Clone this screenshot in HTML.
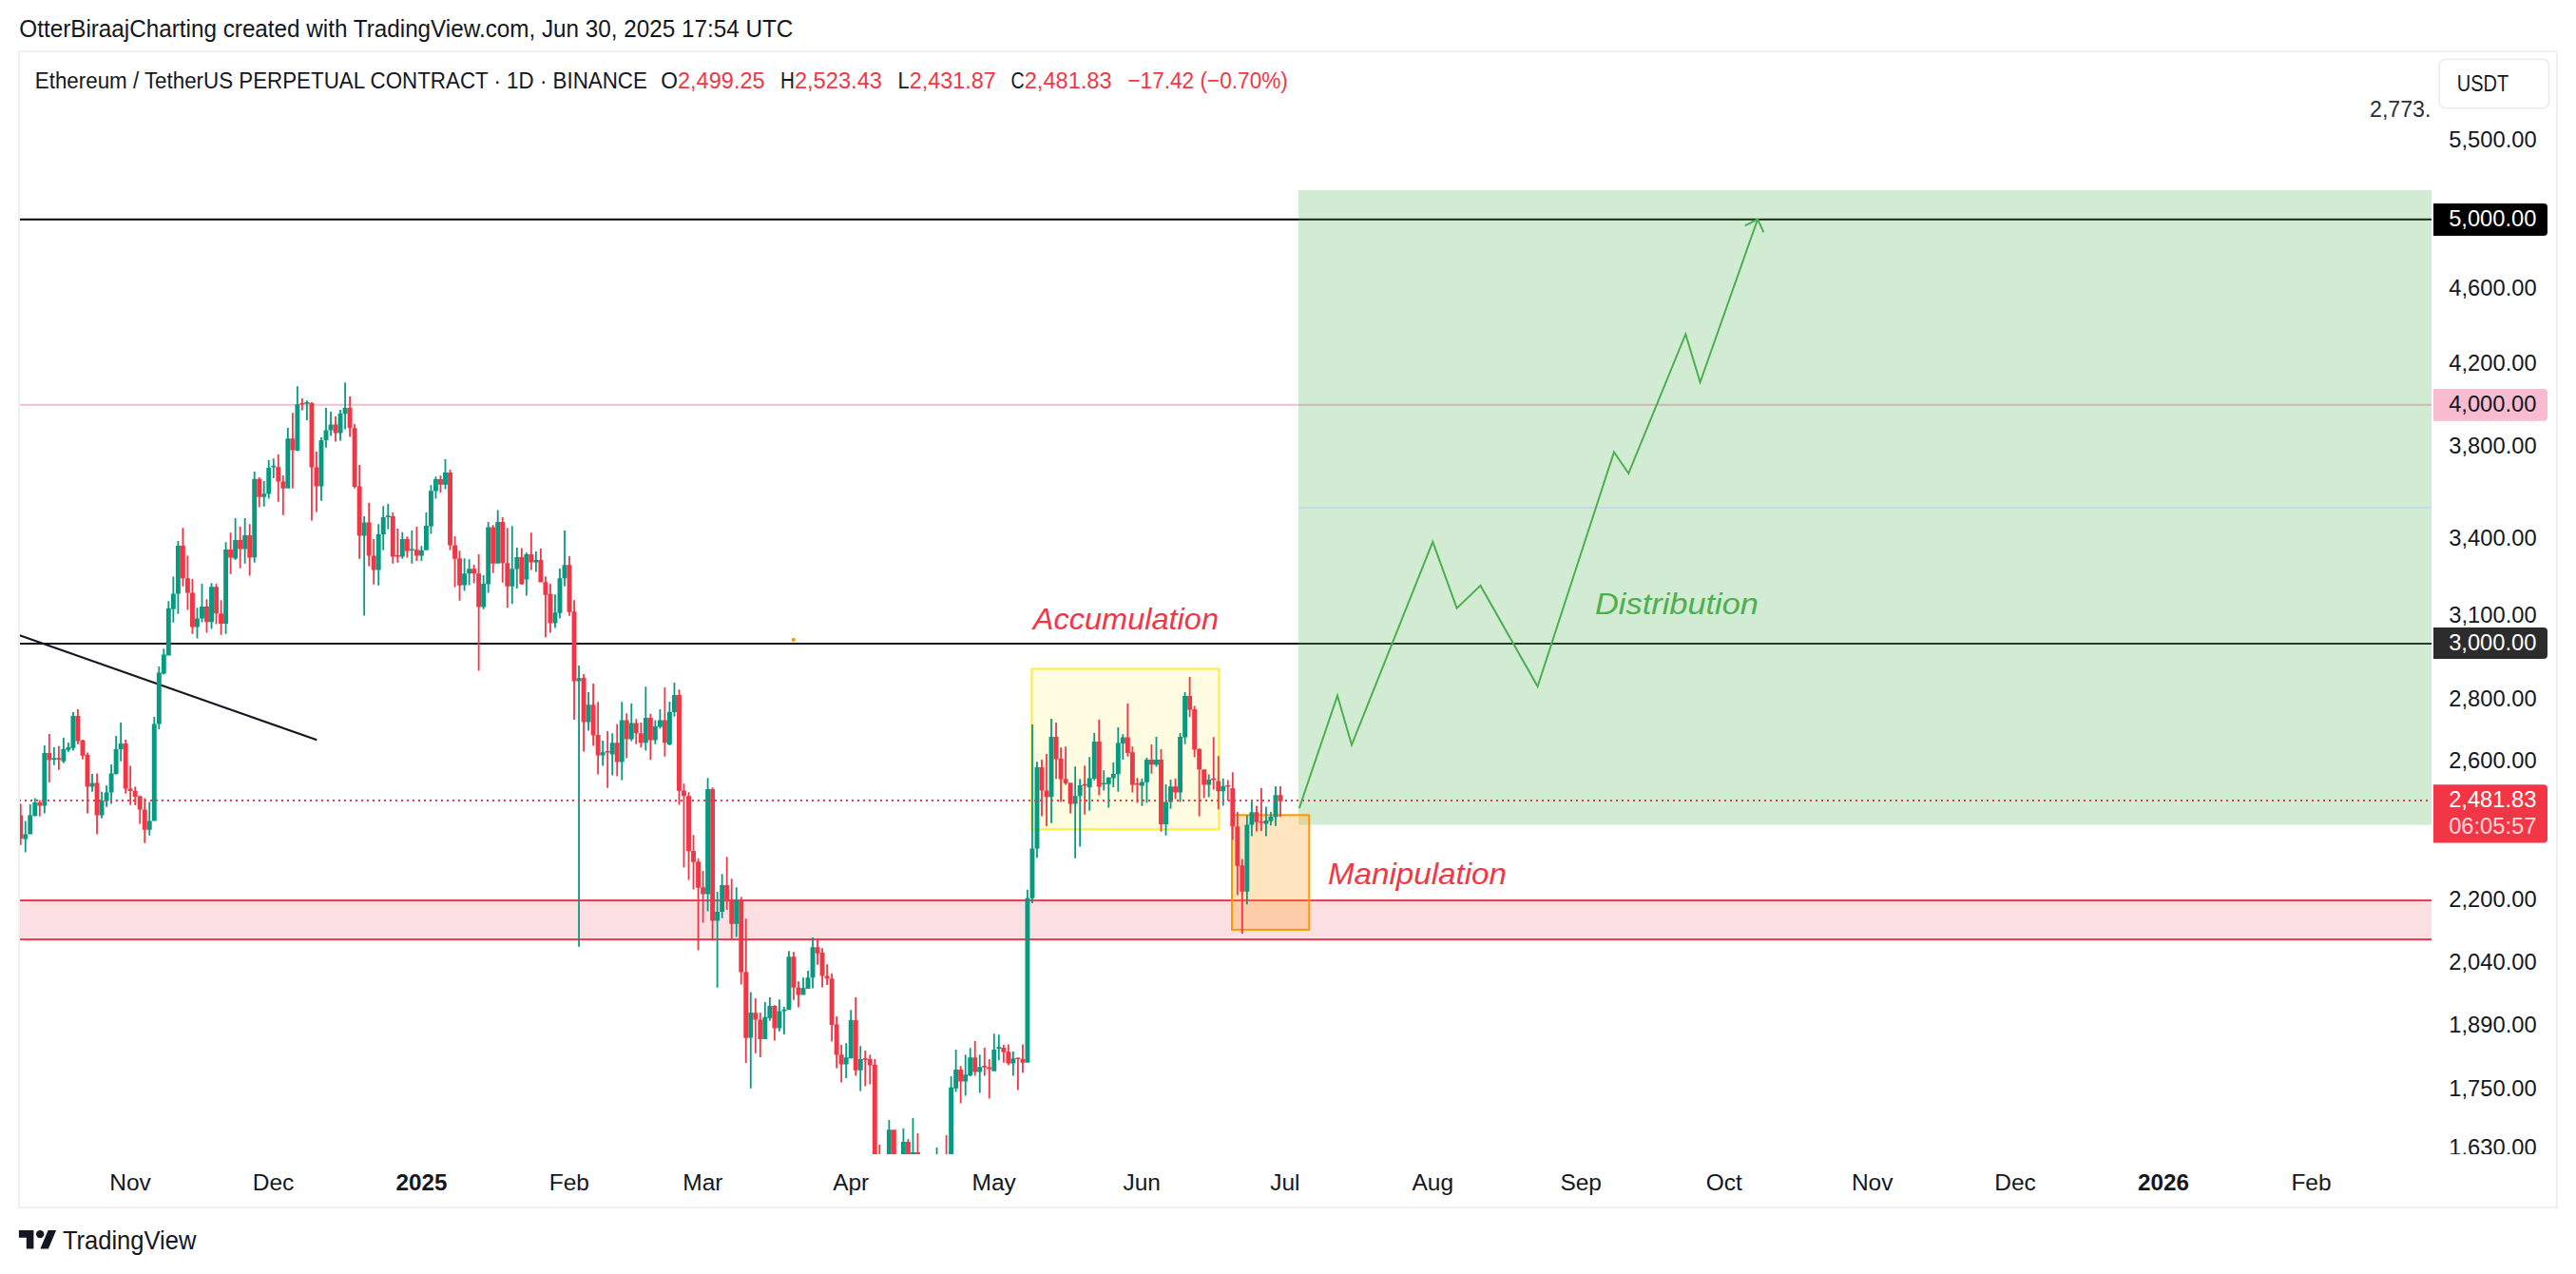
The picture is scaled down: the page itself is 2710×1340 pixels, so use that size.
<!DOCTYPE html><html><head><meta charset="utf-8"><style>html,body{margin:0;padding:0;background:#fff;width:2710px;height:1340px;overflow:hidden}svg{display:block}text{font-family:"Liberation Sans", sans-serif}</style></head><body>
<svg width="2710" height="1340" viewBox="0 0 2710 1340">
<defs><clipPath id="pane"><rect x="21" y="55" width="2537" height="1159"/></clipPath><clipPath id="axis"><rect x="2558" y="55" width="131" height="1159"/></clipPath></defs>
<rect width="2710" height="1340" fill="#ffffff"/>
<text x="20.3" y="39.2" font-size="24.9" fill="#131722" textLength="814" lengthAdjust="spacingAndGlyphs" >OtterBiraajCharting created with TradingView.com, Jun 30, 2025 17:54 UTC</text>
<rect x="20" y="54" width="2670" height="1216" fill="none" stroke="#f0f0f0" stroke-width="2"/>
<g clip-path="url(#pane)">
<rect x="21" y="947.1" width="2537" height="41" fill="#fcdfe2"/>
<rect x="21" y="946.1" width="2537" height="2" fill="#f23645"/>
<rect x="21" y="987.1" width="2537" height="2" fill="#f23645"/>
<rect x="21" y="229.8" width="2537" height="2" fill="#000000"/>
<rect x="21" y="424.8" width="2537" height="2" fill="#f8bbd0"/>
<rect x="21" y="676" width="2537" height="2" fill="#131722"/>
<line x1="20.3" y1="668.2" x2="333.3" y2="778.3" stroke="#131722" stroke-width="2.2"/>
<rect x="1366" y="200" width="1192" height="667.6" fill="rgba(76,175,80,0.25)"/>
<rect x="1366" y="533" width="1192" height="2" fill="#c2dde6"/>
<rect x="1085.4" y="703.5" width="197.1" height="168.8" fill="rgba(255,235,59,0.15)" stroke="#ffeb3b" stroke-width="2"/>
<rect x="1296" y="857.3" width="81.3" height="120.6" fill="rgba(255,152,0,0.25)" stroke="#ff9800" stroke-width="2"/>
<circle cx="834.8" cy="672.9" r="2.1" fill="#ff9800"/>
<path d="M25.84 863.4h1.8V896.5h-1.8Z M24.29 877.5h4.9V882.5h-4.9Z M30.86 846.1h1.8V877.5h-1.8Z M29.31 857.4h4.9V877.5h-4.9Z M35.88 839.4h1.8V858.8h-1.8Z M34.33 844.1h4.9V858.1h-4.9Z M45.92 784.0h1.8V855.4h-1.8Z M44.37 792.0h4.9V847.4h-4.9Z M55.96 786.0h1.8V804.7h-1.8Z M54.41 797.3h4.9V798.9h-4.9Z M66.00 776.0h1.8V802.7h-1.8Z M64.45 788.0h4.9V800.7h-4.9Z M71.02 781.1h1.8V790.7h-1.8Z M69.47 786.0h4.9V788.7h-4.9Z M76.04 749.1h1.8V789.4h-1.8Z M74.49 753.0h4.9V786.7h-4.9Z M96.12 814.1h1.8V832.7h-1.8Z M94.57 823.4h4.9V827.4h-4.9Z M106.16 832.7h1.8V860.8h-1.8Z M104.61 842.1h4.9V857.4h-4.9Z M111.18 826.1h1.8V848.8h-1.8Z M109.63 833.4h4.9V842.8h-4.9Z M116.20 804.1h1.8V845.4h-1.8Z M114.65 813.4h4.9V833.4h-4.9Z M121.22 774.0h1.8V814.7h-1.8Z M119.67 788.0h4.9V814.1h-4.9Z M126.24 760.0h1.8V800.7h-1.8Z M124.69 782.0h4.9V788.0h-4.9Z M156.36 843.4h1.8V878.8h-1.8Z M154.81 863.4h4.9V872.8h-4.9Z M161.38 754.0h1.8V863.4h-1.8Z M159.83 761.4h4.9V863.4h-4.9Z M166.40 701.1h1.8V767.0h-1.8Z M164.85 707.5h4.9V761.6h-4.9Z M171.42 682.2h1.8V709.6h-1.8Z M169.87 688.5h4.9V708.4h-4.9Z M176.44 632.2h1.8V689.4h-1.8Z M174.89 639.8h4.9V689.4h-4.9Z M181.46 606.4h1.8V654.7h-1.8Z M179.91 624.4h4.9V640.7h-4.9Z M186.48 569.0h1.8V645.7h-1.8Z M184.93 573.9h4.9V624.4h-4.9Z M206.56 639.2h1.8V671.4h-1.8Z M205.01 650.6h4.9V659.6h-4.9Z M211.58 614.1h1.8V654.6h-1.8Z M210.03 638.0h4.9V650.6h-4.9Z M221.62 613.2h1.8V661.4h-1.8Z M220.07 617.2h4.9V654.2h-4.9Z M236.68 570.3h1.8V666.8h-1.8Z M235.13 578.0h4.9V656.0h-4.9Z M246.72 545.0h1.8V588.9h-1.8Z M245.17 568.1h4.9V587.4h-4.9Z M256.76 545.0h1.8V592.8h-1.8Z M255.21 563.1h4.9V577.5h-4.9Z M266.80 496.1h1.8V591.8h-1.8Z M265.25 503.8h4.9V586.3h-4.9Z M276.84 506.0h1.8V532.7h-1.8Z M275.29 519.2h4.9V522.8h-4.9Z M281.86 484.0h1.8V524.6h-1.8Z M280.31 492.1h4.9V519.5h-4.9Z M286.88 482.2h1.8V502.9h-1.8Z M285.33 489.8h4.9V491.6h-4.9Z M301.94 450.1h1.8V513.8h-1.8Z M300.39 461.2h4.9V513.8h-4.9Z M311.98 406.2h1.8V474.4h-1.8Z M310.43 425.3h4.9V474.1h-4.9Z M322.02 421.2h1.8V441.9h-1.8Z M320.47 423.1h4.9V424.7h-4.9Z M337.08 460.0h1.8V526.8h-1.8Z M335.53 463.1h4.9V511.4h-4.9Z M342.10 428.9h1.8V470.8h-1.8Z M340.55 452.4h4.9V463.1h-4.9Z M347.12 432.9h1.8V458.5h-1.8Z M345.57 446.4h4.9V452.4h-4.9Z M357.16 431.1h1.8V463.6h-1.8Z M355.61 435.1h4.9V455.5h-4.9Z M362.18 402.2h1.8V451.4h-1.8Z M360.63 428.9h4.9V435.2h-4.9Z M382.26 543.1h1.8V647.6h-1.8Z M380.71 549.5h4.9V563.4h-4.9Z M397.32 551.3h1.8V615.7h-1.8Z M395.77 562.1h4.9V599.5h-4.9Z M402.34 532.3h1.8V578.7h-1.8Z M400.79 544.0h4.9V562.1h-4.9Z M407.36 530.0h1.8V556.7h-1.8Z M405.81 542.2h4.9V544.0h-4.9Z M422.42 559.7h1.8V587.7h-1.8Z M420.87 567.0h4.9V585.6h-4.9Z M432.46 557.9h1.8V592.8h-1.8Z M430.91 577.4h4.9V579.0h-4.9Z M442.50 574.2h1.8V589.9h-1.8Z M440.95 578.7h4.9V584.5h-4.9Z M447.52 539.0h1.8V578.7h-1.8Z M445.97 553.1h4.9V578.7h-4.9Z M452.54 510.2h1.8V561.6h-1.8Z M450.99 516.2h4.9V553.5h-4.9Z M457.56 501.2h1.8V524.6h-1.8Z M456.01 503.9h4.9V516.5h-4.9Z M467.60 483.1h1.8V514.4h-1.8Z M466.05 497.0h4.9V509.7h-4.9Z M487.68 587.3h1.8V621.6h-1.8Z M486.13 603.2h4.9V615.4h-4.9Z M492.70 588.2h1.8V615.4h-1.8Z M491.15 598.3h4.9V603.2h-4.9Z M507.76 605.0h1.8V640.7h-1.8Z M506.21 614.0h4.9V638.4h-4.9Z M512.78 549.0h1.8V623.6h-1.8Z M511.23 554.4h4.9V614.4h-4.9Z M522.82 536.4h1.8V592.7h-1.8Z M521.27 549.0h4.9V592.7h-4.9Z M537.88 553.2h1.8V635.3h-1.8Z M536.33 598.3h4.9V616.7h-4.9Z M542.90 576.1h1.8V618.9h-1.8Z M541.35 586.0h4.9V598.6h-4.9Z M552.94 581.2h1.8V626.6h-1.8Z M551.39 583.0h4.9V609.5h-4.9Z M562.98 580.1h1.8V601.4h-1.8Z M561.43 589.1h4.9V591.4h-4.9Z M583.06 625.2h1.8V660.6h-1.8Z M581.51 644.3h4.9V655.5h-4.9Z M588.08 598.1h1.8V650.5h-1.8Z M586.53 608.2h4.9V644.7h-4.9Z M593.10 558.1h1.8V616.7h-1.8Z M591.55 594.2h4.9V608.2h-4.9Z M618.20 728.0h1.8V768.6h-1.8Z M616.65 741.2h4.9V759.6h-4.9Z M633.26 779.1h1.8V805.6h-1.8Z M631.71 791.2h4.9V794.4h-4.9Z M643.30 771.3h1.8V815.5h-1.8Z M641.75 781.2h4.9V793.5h-4.9Z M653.34 738.3h1.8V820.6h-1.8Z M651.79 757.4h4.9V801.6h-4.9Z M663.38 740.1h1.8V779.4h-1.8Z M661.83 760.5h4.9V777.6h-4.9Z M678.44 722.2h1.8V789.4h-1.8Z M676.89 755.1h4.9V781.2h-4.9Z M688.48 757.4h1.8V782.7h-1.8Z M686.93 764.1h4.9V778.5h-4.9Z M693.50 746.0h1.8V766.4h-1.8Z M691.95 757.4h4.9V764.6h-4.9Z M703.54 737.9h1.8V783.9h-1.8Z M701.99 748.7h4.9V783.0h-4.9Z M708.56 718.1h1.8V753.8h-1.8Z M707.01 731.0h4.9V749.1h-4.9Z M743.70 818.2h1.8V958.5h-1.8Z M742.15 830.0h4.9V940.5h-4.9Z M753.74 938.1h1.8V1038.8h-1.8Z M752.19 959.1h4.9V968.4h-4.9Z M758.76 919.2h1.8V965.7h-1.8Z M757.21 931.1h4.9V959.1h-4.9Z M773.82 933.2h1.8V985.6h-1.8Z M772.27 946.4h4.9V971.7h-4.9Z M788.88 1043.4h1.8V1144.7h-1.8Z M787.33 1065.0h4.9V1091.5h-4.9Z M803.94 1054.1h1.8V1092.9h-1.8Z M802.39 1069.8h4.9V1092.9h-4.9Z M808.96 1049.1h1.8V1073.8h-1.8Z M807.41 1058.1h4.9V1070.7h-4.9Z M819.00 1051.2h1.8V1084.8h-1.8Z M817.45 1063.5h4.9V1081.6h-4.9Z M824.02 1059.0h1.8V1087.9h-1.8Z M822.47 1061.7h4.9V1063.5h-4.9Z M829.04 1000.3h1.8V1062.3h-1.8Z M827.49 1006.3h4.9V1062.3h-4.9Z M844.10 1028.3h1.8V1046.4h-1.8Z M842.55 1039.2h4.9V1046.4h-4.9Z M849.12 1021.1h1.8V1040.1h-1.8Z M847.57 1028.3h4.9V1040.1h-4.9Z M854.14 985.9h1.8V1039.5h-1.8Z M852.59 996.2h4.9V1028.3h-4.9Z M889.28 1097.3h1.8V1133.9h-1.8Z M887.73 1112.3h4.9V1119.5h-4.9Z M894.30 1062.3h1.8V1113.5h-1.8Z M892.75 1073.1h4.9V1113.2h-4.9Z M904.34 1100.2h1.8V1147.5h-1.8Z M902.79 1114.1h4.9V1125.8h-4.9Z M1004.74 1104.1h1.8V1148.4h-1.8Z M1003.19 1124.9h4.9V1144.7h-4.9Z M1014.78 1109.2h1.8V1152.5h-1.8Z M1013.23 1130.3h4.9V1137.5h-4.9Z M1019.80 1102.3h1.8V1132.1h-1.8Z M1018.25 1112.3h4.9V1131.2h-4.9Z M1029.84 1109.2h1.8V1149.6h-1.8Z M1028.29 1122.2h4.9V1127.6h-4.9Z M1044.90 1087.3h1.8V1126.7h-1.8Z M1043.35 1104.1h4.9V1126.7h-4.9Z M1049.92 1088.2h1.8V1115.3h-1.8Z M1048.37 1101.3h4.9V1102.9h-4.9Z M1064.98 1105.9h1.8V1131.6h-1.8Z M1063.43 1113.2h4.9V1118.6h-4.9Z M1090.08 801.2h1.8V902.3h-1.8Z M1088.53 807.0h4.9V892.4h-4.9Z M1105.14 756.1h1.8V865.8h-1.8Z M1103.59 775.1h4.9V838.2h-4.9Z M1130.24 806.3h1.8V902.7h-1.8Z M1128.69 837.3h4.9V845.5h-4.9Z M1135.26 819.3h1.8V890.6h-1.8Z M1133.71 826.1h4.9V837.3h-4.9Z M1145.30 796.2h1.8V852.7h-1.8Z M1143.75 818.4h4.9V828.3h-4.9Z M1150.32 771.1h1.8V820.7h-1.8Z M1148.77 780.1h4.9V818.9h-4.9Z M1160.36 810.3h1.8V831.6h-1.8Z M1158.81 823.4h4.9V825.0h-4.9Z M1165.38 817.5h1.8V849.6h-1.8Z M1163.83 817.8h4.9V824.7h-4.9Z M1170.40 802.1h1.8V827.9h-1.8Z M1168.85 813.9h4.9V818.4h-4.9Z M1175.42 765.1h1.8V832.8h-1.8Z M1173.87 781.4h4.9V814.2h-4.9Z M1180.44 772.2h1.8V798.9h-1.8Z M1178.89 775.5h4.9V782.1h-4.9Z M1200.52 819.1h1.8V847.7h-1.8Z M1198.97 822.4h4.9V826.4h-4.9Z M1205.54 797.1h1.8V844.4h-1.8Z M1203.99 798.9h4.9V822.7h-4.9Z M1215.58 774.9h1.8V806.5h-1.8Z M1214.03 798.9h4.9V804.3h-4.9Z M1225.62 824.9h1.8V878.7h-1.8Z M1224.07 843.5h4.9V867.0h-4.9Z M1230.64 820.0h1.8V850.7h-1.8Z M1229.09 827.3h4.9V843.5h-4.9Z M1240.68 770.9h1.8V843.5h-1.8Z M1239.13 774.9h4.9V833.6h-4.9Z M1245.70 728.0h1.8V782.7h-1.8Z M1244.15 732.1h4.9V775.5h-4.9Z M1270.80 814.6h1.8V838.6h-1.8Z M1269.25 820.0h4.9V825.5h-4.9Z M1285.86 818.7h1.8V847.5h-1.8Z M1284.31 826.8h4.9V832.2h-4.9Z M1310.96 857.5h1.8V951.3h-1.8Z M1309.41 867.4h4.9V937.8h-4.9Z M1315.98 843.0h1.8V879.5h-1.8Z M1314.43 854.2h4.9V867.4h-4.9Z M1331.04 848.4h1.8V879.5h-1.8Z M1329.49 862.9h4.9V866.5h-4.9Z M1336.06 853.9h1.8V868.3h-1.8Z M1334.51 858.9h4.9V863.8h-4.9Z M1341.08 827.1h1.8V868.7h-1.8Z M1339.53 836.2h4.9V859.3h-4.9Z M608.16 700.1h1.8V995.7h-1.8Z M606.61 713.3h4.9V716.5h-4.9Z M934.46 1178.0h1.8V1240.0h-1.8Z M932.91 1188.2h4.9V1240.0h-4.9Z M949.52 1187.0h1.8V1240.0h-1.8Z M947.97 1201.0h4.9V1240.0h-4.9Z M959.56 1176.0h1.8V1240.0h-1.8Z M958.01 1212.0h4.9V1240.0h-4.9Z M969.60 1230.0h1.8V1240.0h-1.8Z M968.05 1235.0h4.9V1240.0h-4.9Z M974.62 1230.0h1.8V1240.0h-1.8Z M973.07 1235.0h4.9V1240.0h-4.9Z M979.64 1230.0h1.8V1240.0h-1.8Z M978.09 1235.0h4.9V1240.0h-4.9Z M989.68 1230.0h1.8V1240.0h-1.8Z M988.13 1235.0h4.9V1240.0h-4.9Z M984.66 1207.0h1.8V1240.0h-1.8Z M983.11 1230.0h4.9V1240.0h-4.9Z M999.72 1132.1h1.8V1240.0h-1.8Z M998.17 1143.8h4.9V1240.0h-4.9Z M1080.04 935.7h1.8V1117.7h-1.8Z M1078.49 944.7h4.9V1117.7h-4.9Z M1085.06 762.0h1.8V950.0h-1.8Z M1083.51 892.4h4.9V944.7h-4.9Z" fill="#089981"/>
<path d="M20.82 845.4h1.8V888.8h-1.8Z M19.27 857.4h4.9V882.1h-4.9Z M40.90 841.4h1.8V858.8h-1.8Z M39.35 844.1h4.9V847.4h-4.9Z M50.94 772.0h1.8V822.7h-1.8Z M49.39 792.0h4.9V799.4h-4.9Z M60.98 784.7h1.8V809.8h-1.8Z M59.43 797.3h4.9V798.9h-4.9Z M81.06 746.0h1.8V782.7h-1.8Z M79.51 753.0h4.9V779.4h-4.9Z M86.08 778.0h1.8V798.7h-1.8Z M84.53 778.7h4.9V794.7h-4.9Z M91.10 791.4h1.8V855.4h-1.8Z M89.55 794.1h4.9V827.4h-4.9Z M101.14 813.4h1.8V877.5h-1.8Z M99.59 823.4h4.9V857.4h-4.9Z M131.26 778.0h1.8V834.8h-1.8Z M129.71 782.0h4.9V829.4h-4.9Z M136.28 805.4h1.8V846.8h-1.8Z M134.73 829.4h4.9V832.1h-4.9Z M141.30 827.4h1.8V846.8h-1.8Z M139.75 832.1h4.9V838.1h-4.9Z M146.32 836.8h1.8V866.8h-1.8Z M144.77 837.4h4.9V851.4h-4.9Z M151.34 839.4h1.8V886.8h-1.8Z M149.79 851.4h4.9V872.8h-4.9Z M191.50 555.3h1.8V616.7h-1.8Z M189.95 573.9h4.9V608.2h-4.9Z M196.52 584.4h1.8V641.6h-1.8Z M194.97 608.2h4.9V623.5h-4.9Z M201.54 609.1h1.8V666.8h-1.8Z M199.99 623.5h4.9V659.6h-4.9Z M216.60 630.2h1.8V665.6h-1.8Z M215.05 638.0h4.9V654.2h-4.9Z M226.64 614.1h1.8V656.6h-1.8Z M225.09 617.2h4.9V645.2h-4.9Z M231.66 631.3h1.8V667.7h-1.8Z M230.11 645.2h4.9V656.0h-4.9Z M241.70 560.3h1.8V603.7h-1.8Z M240.15 578.0h4.9V586.5h-4.9Z M251.74 554.0h1.8V597.7h-1.8Z M250.19 568.1h4.9V577.5h-4.9Z M261.78 551.3h1.8V605.5h-1.8Z M260.23 563.1h4.9V586.5h-4.9Z M271.82 502.0h1.8V533.6h-1.8Z M270.27 503.8h4.9V522.8h-4.9Z M291.90 478.0h1.8V527.7h-1.8Z M290.35 491.2h4.9V506.6h-4.9Z M296.92 500.1h1.8V541.8h-1.8Z M295.37 506.6h4.9V513.8h-4.9Z M306.96 434.2h1.8V513.8h-1.8Z M305.41 461.2h4.9V473.5h-4.9Z M317.00 419.0h1.8V431.6h-1.8Z M315.45 424.0h4.9V425.6h-4.9Z M327.04 423.0h1.8V547.5h-1.8Z M325.49 423.9h4.9V491.6h-4.9Z M332.06 475.0h1.8V538.5h-1.8Z M330.51 491.6h4.9V511.4h-4.9Z M352.14 438.0h1.8V464.5h-1.8Z M350.59 446.4h4.9V455.5h-4.9Z M367.20 417.1h1.8V459.6h-1.8Z M365.65 428.9h4.9V450.2h-4.9Z M372.22 446.0h1.8V513.7h-1.8Z M370.67 450.2h4.9V511.9h-4.9Z M377.24 489.0h1.8V587.7h-1.8Z M375.69 511.6h4.9V563.4h-4.9Z M387.28 529.1h1.8V595.5h-1.8Z M385.73 549.5h4.9V584.5h-4.9Z M392.30 567.0h1.8V614.8h-1.8Z M390.75 584.5h4.9V599.5h-4.9Z M412.38 539.0h1.8V592.8h-1.8Z M410.83 543.0h4.9V585.6h-4.9Z M417.40 556.1h1.8V591.7h-1.8Z M415.85 584.0h4.9V585.6h-4.9Z M427.44 564.3h1.8V586.5h-1.8Z M425.89 567.0h4.9V579.6h-4.9Z M437.48 554.0h1.8V589.9h-1.8Z M435.93 578.3h4.9V584.5h-4.9Z M462.58 500.3h1.8V518.3h-1.8Z M461.03 503.9h4.9V509.7h-4.9Z M472.62 494.0h1.8V578.8h-1.8Z M471.07 497.0h4.9V573.4h-4.9Z M477.64 564.0h1.8V617.6h-1.8Z M476.09 573.4h4.9V587.8h-4.9Z M482.66 579.2h1.8V631.7h-1.8Z M481.11 587.3h4.9V615.8h-4.9Z M497.72 594.1h1.8V613.6h-1.8Z M496.17 598.3h4.9V603.2h-4.9Z M502.74 582.9h1.8V705.5h-1.8Z M501.19 603.2h4.9V638.4h-4.9Z M517.80 552.3h1.8V602.8h-1.8Z M516.25 554.4h4.9V592.7h-4.9Z M527.84 544.1h1.8V612.7h-1.8Z M526.29 549.0h4.9V592.3h-4.9Z M532.86 555.3h1.8V639.3h-1.8Z M531.31 592.3h4.9V616.7h-4.9Z M547.92 576.4h1.8V614.9h-1.8Z M546.37 586.0h4.9V614.4h-4.9Z M557.96 560.2h1.8V599.6h-1.8Z M556.41 583.0h4.9V591.4h-4.9Z M568.00 577.0h1.8V612.6h-1.8Z M566.45 589.1h4.9V612.6h-4.9Z M573.02 606.2h1.8V670.3h-1.8Z M571.47 612.2h4.9V625.7h-4.9Z M578.04 614.0h1.8V665.5h-1.8Z M576.49 624.8h4.9V655.5h-4.9Z M598.12 585.1h1.8V647.8h-1.8Z M596.57 594.2h4.9V643.8h-4.9Z M613.18 709.0h1.8V790.6h-1.8Z M611.63 713.0h4.9V759.6h-4.9Z M623.22 719.0h1.8V784.5h-1.8Z M621.67 741.2h4.9V773.6h-4.9Z M628.24 738.3h1.8V814.6h-1.8Z M626.69 773.1h4.9V794.4h-4.9Z M638.28 769.1h1.8V828.7h-1.8Z M636.73 789.9h4.9V791.5h-4.9Z M648.32 761.4h1.8V816.4h-1.8Z M646.77 781.2h4.9V801.6h-4.9Z M658.36 750.2h1.8V797.5h-1.8Z M656.81 757.4h4.9V777.6h-4.9Z M668.40 756.3h1.8V782.7h-1.8Z M666.85 760.5h4.9V771.3h-4.9Z M673.42 760.1h1.8V786.3h-1.8Z M671.87 771.3h4.9V781.2h-4.9Z M683.46 751.1h1.8V799.3h-1.8Z M681.91 755.1h4.9V778.5h-4.9Z M698.52 723.1h1.8V795.7h-1.8Z M696.97 757.4h4.9V781.2h-4.9Z M713.58 725.3h1.8V846.6h-1.8Z M712.03 731.0h4.9V831.8h-4.9Z M733.66 903.1h1.8V999.5h-1.8Z M732.11 906.2h4.9V933.8h-4.9Z M738.68 916.1h1.8V970.6h-1.8Z M737.13 933.2h4.9V940.5h-4.9Z M748.72 828.2h1.8V989.2h-1.8Z M747.17 830.0h4.9V968.4h-4.9Z M763.78 901.3h1.8V956.7h-1.8Z M762.23 931.1h4.9V946.4h-4.9Z M768.80 924.2h1.8V986.9h-1.8Z M767.25 946.4h4.9V971.7h-4.9Z M778.84 943.2h1.8V1035.6h-1.8Z M777.29 946.4h4.9V1022.6h-4.9Z M783.86 966.3h1.8V1118.0h-1.8Z M782.31 1022.2h4.9V1091.8h-4.9Z M793.90 1050.0h1.8V1107.7h-1.8Z M792.35 1065.3h4.9V1072.5h-4.9Z M798.92 1065.0h1.8V1111.9h-1.8Z M797.37 1072.5h4.9V1092.9h-4.9Z M813.98 1057.2h1.8V1094.6h-1.8Z M812.43 1058.1h4.9V1081.6h-4.9Z M834.06 1001.2h1.8V1051.8h-1.8Z M832.51 1006.3h4.9V1038.8h-4.9Z M839.08 1032.3h1.8V1059.5h-1.8Z M837.53 1038.8h4.9V1046.4h-4.9Z M859.16 988.6h1.8V1014.8h-1.8Z M857.61 996.2h4.9V1002.7h-4.9Z M864.18 997.3h1.8V1038.6h-1.8Z M862.63 1002.1h4.9V1026.5h-4.9Z M869.20 1014.2h1.8V1035.9h-1.8Z M867.65 1026.5h4.9V1029.2h-4.9Z M874.22 1023.8h1.8V1095.5h-1.8Z M872.67 1029.2h4.9V1078.0h-4.9Z M879.24 1068.9h1.8V1123.6h-1.8Z M877.69 1077.4h4.9V1109.5h-4.9Z M884.26 1099.1h1.8V1138.4h-1.8Z M882.71 1109.2h4.9V1119.5h-4.9Z M899.32 1049.1h1.8V1131.6h-1.8Z M897.77 1073.1h4.9V1125.8h-4.9Z M909.36 1105.0h1.8V1142.4h-1.8Z M907.81 1113.1h4.9V1114.7h-4.9Z M914.38 1109.2h1.8V1140.6h-1.8Z M912.83 1114.1h4.9V1120.4h-4.9Z M919.40 1114.1h1.8V1240.0h-1.8Z M917.85 1120.0h4.9V1240.0h-4.9Z M1009.76 1121.3h1.8V1160.5h-1.8Z M1008.21 1124.9h4.9V1137.5h-4.9Z M1024.82 1095.1h1.8V1131.6h-1.8Z M1023.27 1112.3h4.9V1127.6h-4.9Z M1034.86 1102.0h1.8V1131.6h-1.8Z M1033.31 1121.1h4.9V1122.7h-4.9Z M1039.88 1114.1h1.8V1155.6h-1.8Z M1038.33 1122.5h4.9V1124.4h-4.9Z M1054.94 1099.1h1.8V1117.7h-1.8Z M1053.39 1102.0h4.9V1106.8h-4.9Z M1059.96 1098.4h1.8V1120.4h-1.8Z M1058.41 1106.3h4.9V1118.6h-4.9Z M1070.00 1112.3h1.8V1146.6h-1.8Z M1068.45 1112.4h4.9V1114.0h-4.9Z M1075.02 1098.4h1.8V1128.5h-1.8Z M1073.47 1114.1h4.9V1117.7h-4.9Z M1095.10 799.1h1.8V858.6h-1.8Z M1093.55 807.0h4.9V831.6h-4.9Z M1100.12 793.1h1.8V868.9h-1.8Z M1098.57 831.6h4.9V838.2h-4.9Z M1110.16 760.1h1.8V819.3h-1.8Z M1108.61 775.1h4.9V798.5h-4.9Z M1115.18 786.2h1.8V843.6h-1.8Z M1113.63 798.0h4.9V819.6h-4.9Z M1120.20 785.3h1.8V825.6h-1.8Z M1118.65 819.3h4.9V823.8h-4.9Z M1125.22 823.2h1.8V855.4h-1.8Z M1123.67 823.2h4.9V845.5h-4.9Z M1140.28 805.2h1.8V856.8h-1.8Z M1138.73 824.8h4.9V826.4h-4.9Z M1155.34 757.0h1.8V836.4h-1.8Z M1153.79 780.1h4.9V827.4h-4.9Z M1185.46 740.1h1.8V795.7h-1.8Z M1183.91 775.5h4.9V792.1h-4.9Z M1190.48 785.2h1.8V833.6h-1.8Z M1188.93 791.2h4.9V825.5h-4.9Z M1195.50 818.2h1.8V844.4h-1.8Z M1193.95 824.0h4.9V825.6h-4.9Z M1210.56 783.0h1.8V813.7h-1.8Z M1209.01 798.9h4.9V804.3h-4.9Z M1220.60 788.1h1.8V874.7h-1.8Z M1219.05 798.9h4.9V867.0h-4.9Z M1235.66 819.1h1.8V840.4h-1.8Z M1234.11 827.3h4.9V833.6h-4.9Z M1250.72 712.1h1.8V754.2h-1.8Z M1249.17 732.1h4.9V746.6h-4.9Z M1255.74 742.4h1.8V796.6h-1.8Z M1254.19 746.0h4.9V788.4h-4.9Z M1260.76 787.0h1.8V858.8h-1.8Z M1259.21 788.1h4.9V809.2h-4.9Z M1265.78 809.2h1.8V839.4h-1.8Z M1264.23 809.2h4.9V825.5h-4.9Z M1275.82 775.3h1.8V830.4h-1.8Z M1274.27 818.7h4.9V820.5h-4.9Z M1280.84 795.2h1.8V851.2h-1.8Z M1279.29 821.4h4.9V832.2h-4.9Z M1290.88 820.5h1.8V842.1h-1.8Z M1289.33 826.0h4.9V827.6h-4.9Z M1295.90 812.3h1.8V883.6h-1.8Z M1294.35 829.0h4.9V869.2h-4.9Z M1300.92 853.9h1.8V941.4h-1.8Z M1299.37 869.2h4.9V910.7h-4.9Z M1305.94 903.5h1.8V982.0h-1.8Z M1304.39 910.2h4.9V937.8h-4.9Z M1321.00 847.5h1.8V874.6h-1.8Z M1319.45 854.2h4.9V864.7h-4.9Z M1326.02 829.0h1.8V874.1h-1.8Z M1324.47 863.9h4.9V865.5h-4.9Z M1346.10 827.1h1.8V859.3h-1.8Z M1344.55 836.2h4.9V842.7h-4.9Z M603.14 631.2h1.8V756.9h-1.8Z M601.59 643.2h4.9V716.5h-4.9Z M718.60 824.2h1.8V912.5h-1.8Z M717.05 831.4h4.9V837.2h-4.9Z M723.62 833.2h1.8V925.5h-1.8Z M722.07 837.2h4.9V895.3h-4.9Z M728.64 878.2h1.8V935.6h-1.8Z M727.09 895.0h4.9V906.7h-4.9Z M924.42 1204.0h1.8V1240.0h-1.8Z M922.87 1230.0h4.9V1240.0h-4.9Z M929.44 1230.0h1.8V1240.0h-1.8Z M927.89 1235.0h4.9V1240.0h-4.9Z M939.48 1188.2h1.8V1240.0h-1.8Z M937.93 1188.2h4.9V1240.0h-4.9Z M944.50 1230.0h1.8V1240.0h-1.8Z M942.95 1235.0h4.9V1240.0h-4.9Z M954.54 1198.0h1.8V1240.0h-1.8Z M952.99 1201.0h4.9V1240.0h-4.9Z M964.58 1192.0h1.8V1240.0h-1.8Z M963.03 1212.0h4.9V1240.0h-4.9Z M994.70 1194.0h1.8V1240.0h-1.8Z M993.15 1230.0h4.9V1240.0h-4.9Z" fill="#f23645"/>
<line x1="20" y1="842" x2="2556" y2="842" stroke="#f23645" stroke-width="2" stroke-dasharray="2 4" shape-rendering="crispEdges"/>
<polyline points="1366.8,850.1 1407,731.7 1422,783.5 1507.3,569.8 1532.6,639.7 1557.5,615.9 1617.6,722.1 1698,475.4 1713.3,498 1773.3,351.4 1788.6,402.1 1849.1,230.6" fill="none" stroke="#4caf50" stroke-width="2" stroke-linejoin="miter"/>
<polyline points="1835.8,237.4 1849.1,230.6 1855.4,244.4" fill="none" stroke="#4caf50" stroke-width="2"/>
<text x="1086.8" y="661.8" font-size="31.5" fill="#f23645" textLength="195.2" lengthAdjust="spacingAndGlyphs" font-style="italic" >Accumulation</text>
<text x="1397" y="929.7" font-size="31.5" fill="#f23645" textLength="188" lengthAdjust="spacingAndGlyphs" font-style="italic" >Manipulation</text>
<text x="1678" y="646" font-size="31.5" fill="#4caf50" textLength="172" lengthAdjust="spacingAndGlyphs" font-style="italic" >Distribution</text>
</g>
<text x="36.8" y="93.0" font-size="24.7" fill="#131722" textLength="644.1" lengthAdjust="spacingAndGlyphs" >Ethereum / TetherUS PERPETUAL CONTRACT · 1D · BINANCE</text>
<text x="695.3" y="93.0" font-size="24.7" fill="#131722" textLength="17.7" lengthAdjust="spacingAndGlyphs" >O</text>
<text x="713" y="93.0" font-size="24.7" fill="#f23645" textLength="91.6" lengthAdjust="spacingAndGlyphs" >2,499.25</text>
<text x="821" y="93.0" font-size="24.7" fill="#131722" textLength="14.9" lengthAdjust="spacingAndGlyphs" >H</text>
<text x="835.9" y="93.0" font-size="24.7" fill="#f23645" textLength="92.1" lengthAdjust="spacingAndGlyphs" >2,523.43</text>
<text x="944.6" y="93.0" font-size="24.7" fill="#131722" textLength="12.2" lengthAdjust="spacingAndGlyphs" >L</text>
<text x="956.8" y="93.0" font-size="24.7" fill="#f23645" textLength="91" lengthAdjust="spacingAndGlyphs" >2,431.87</text>
<text x="1063.6" y="93.0" font-size="24.7" fill="#131722" textLength="14.1" lengthAdjust="spacingAndGlyphs" >C</text>
<text x="1077.7" y="93.0" font-size="24.7" fill="#f23645" textLength="91.9" lengthAdjust="spacingAndGlyphs" >2,481.83</text>
<text x="1186.4" y="93.0" font-size="24.7" fill="#f23645" textLength="168.5" lengthAdjust="spacingAndGlyphs" >−17.42 (−0.70%)</text>
<rect x="2566.2" y="62.5" width="115.3" height="51.2" rx="6.5" fill="#fff" stroke="#ebebeb" stroke-width="1.5"/>
<text x="2584.7" y="95.8" font-size="24" fill="#131722" textLength="54.5" lengthAdjust="spacingAndGlyphs" >USDT</text>
<text x="2493" y="122.8" font-size="24" fill="#2a2e39" textLength="64.4" lengthAdjust="spacingAndGlyphs" >2,773.</text>
<g clip-path="url(#axis)">
<text x="2668.6" y="155.20000000000002" font-size="24" fill="#131722" textLength="92.3" lengthAdjust="spacingAndGlyphs" text-anchor="end" >5,500.00</text>
<text x="2668.6" y="311.0" font-size="24" fill="#131722" textLength="92.3" lengthAdjust="spacingAndGlyphs" text-anchor="end" >4,600.00</text>
<text x="2668.6" y="390.4" font-size="24" fill="#131722" textLength="92.3" lengthAdjust="spacingAndGlyphs" text-anchor="end" >4,200.00</text>
<text x="2668.6" y="476.9" font-size="24" fill="#131722" textLength="92.3" lengthAdjust="spacingAndGlyphs" text-anchor="end" >3,800.00</text>
<text x="2668.6" y="574.0" font-size="24" fill="#131722" textLength="92.3" lengthAdjust="spacingAndGlyphs" text-anchor="end" >3,400.00</text>
<text x="2668.6" y="654.9" font-size="24" fill="#131722" textLength="92.3" lengthAdjust="spacingAndGlyphs" text-anchor="end" >3,100.00</text>
<text x="2668.6" y="743.4" font-size="24" fill="#131722" textLength="92.3" lengthAdjust="spacingAndGlyphs" text-anchor="end" >2,800.00</text>
<text x="2668.6" y="808.4" font-size="24" fill="#131722" textLength="92.3" lengthAdjust="spacingAndGlyphs" text-anchor="end" >2,600.00</text>
<text x="2668.6" y="954.1" font-size="24" fill="#131722" textLength="92.3" lengthAdjust="spacingAndGlyphs" text-anchor="end" >2,200.00</text>
<text x="2668.6" y="1020.4" font-size="24" fill="#131722" textLength="92.3" lengthAdjust="spacingAndGlyphs" text-anchor="end" >2,040.00</text>
<text x="2668.6" y="1086.4" font-size="24" fill="#131722" textLength="92.3" lengthAdjust="spacingAndGlyphs" text-anchor="end" >1,890.00</text>
<text x="2668.6" y="1153.4" font-size="24" fill="#131722" textLength="92.3" lengthAdjust="spacingAndGlyphs" text-anchor="end" >1,750.00</text>
<text x="2668.6" y="1215.4" font-size="24" fill="#131722" textLength="92.3" lengthAdjust="spacingAndGlyphs" text-anchor="end" >1,630.00</text>
</g>
<path d="M2560 214H2676a4 4 0 0 1 4 4V244a4 4 0 0 1 -4 4H2560Z" fill="#000000"/>
<text x="2668.4" y="238.0" font-size="24" fill="#ffffff" textLength="92.2" lengthAdjust="spacingAndGlyphs" text-anchor="end" >5,000.00</text>
<path d="M2560 409H2676a4 4 0 0 1 4 4V438.7a4 4 0 0 1 -4 4H2560Z" fill="#f8bbd0"/>
<text x="2668.4" y="432.85" font-size="24" fill="#131722" textLength="92.2" lengthAdjust="spacingAndGlyphs" text-anchor="end" >4,000.00</text>
<path d="M2560 660H2676a4 4 0 0 1 4 4V689a4 4 0 0 1 -4 4H2560Z" fill="#2c2c2c"/>
<text x="2668.4" y="683.5" font-size="24" fill="#ffffff" textLength="92.2" lengthAdjust="spacingAndGlyphs" text-anchor="end" >3,000.00</text>
<path d="M2560 825.3H2676a4 4 0 0 1 4 4V882.5a4 4 0 0 1 -4 4H2560Z" fill="#f23645"/>
<text x="2668.4" y="848.8" font-size="24" fill="#ffffff" textLength="92.2" lengthAdjust="spacingAndGlyphs" text-anchor="end" >2,481.83</text>
<text x="2668.4" y="876.8" font-size="24" fill="#fcd7da" textLength="92.2" lengthAdjust="spacingAndGlyphs" text-anchor="end" >06:05:57</text>
<text x="137.1" y="1251.6" font-size="24.5" fill="#131722" text-anchor="middle" >Nov</text>
<text x="287.6" y="1251.6" font-size="24.5" fill="#131722" text-anchor="middle" >Dec</text>
<text x="443.6" y="1251.6" font-size="24.5" fill="#131722" textLength="54" lengthAdjust="spacingAndGlyphs" text-anchor="middle" font-weight="bold" >2025</text>
<text x="598.8" y="1251.6" font-size="24.5" fill="#131722" text-anchor="middle" >Feb</text>
<text x="739.4" y="1251.6" font-size="24.5" fill="#131722" text-anchor="middle" >Mar</text>
<text x="895.2" y="1251.6" font-size="24.5" fill="#131722" text-anchor="middle" >Apr</text>
<text x="1045.7" y="1251.6" font-size="24.5" fill="#131722" text-anchor="middle" >May</text>
<text x="1201.2" y="1251.6" font-size="24.5" fill="#131722" text-anchor="middle" >Jun</text>
<text x="1351.8" y="1251.6" font-size="24.5" fill="#131722" text-anchor="middle" >Jul</text>
<text x="1507.3" y="1251.6" font-size="24.5" fill="#131722" text-anchor="middle" >Aug</text>
<text x="1663.2" y="1251.6" font-size="24.5" fill="#131722" text-anchor="middle" >Sep</text>
<text x="1813.7" y="1251.6" font-size="24.5" fill="#131722" text-anchor="middle" >Oct</text>
<text x="1969.7" y="1251.6" font-size="24.5" fill="#131722" text-anchor="middle" >Nov</text>
<text x="2120" y="1251.6" font-size="24.5" fill="#131722" text-anchor="middle" >Dec</text>
<text x="2276" y="1251.6" font-size="24.5" fill="#131722" textLength="54" lengthAdjust="spacingAndGlyphs" text-anchor="middle" font-weight="bold" >2026</text>
<text x="2431.5" y="1251.6" font-size="24.5" fill="#131722" text-anchor="middle" >Feb</text>
<g fill="#131722"><path d="M19.9 1294H35.4V1313.4H27.8V1301.8H19.9Z"/><circle cx="42.2" cy="1298.1" r="4.2"/><path d="M50.6 1294H59.1L50.9 1313.4H42.4Z"/></g>
<text x="65.9" y="1313.8" font-size="27.5" fill="#131722" textLength="140.5" lengthAdjust="spacingAndGlyphs" >TradingView</text>
</svg></body></html>
